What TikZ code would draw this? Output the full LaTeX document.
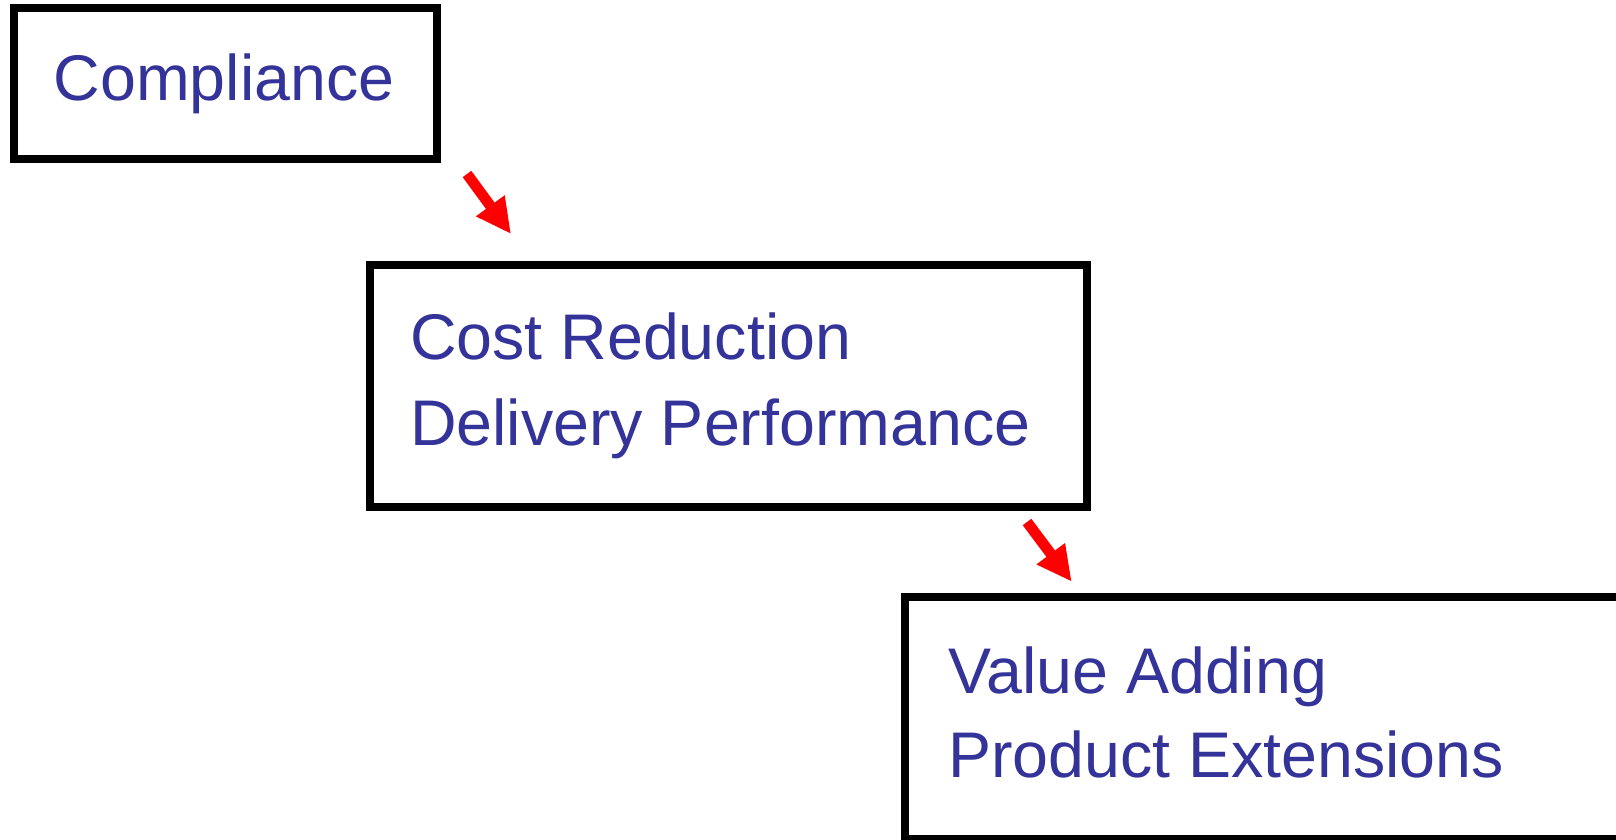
\documentclass[tikz,border=0pt]{standalone}
\usepackage{fontspec}
\setmainfont{Liberation Sans}
\usetikzlibrary{arrows.meta}
\definecolor{txtblue}{RGB}{51,51,153}
\begin{document}
\begin{tikzpicture}[x=1pt,y=-1pt,
  boxline/.style={draw=black,line width=8pt},
  lbl/.style={anchor=base west,inner sep=0pt,text=txtblue,font=\fontsize{64.5}{84}\selectfont,align=left},
  redarrow/.style={draw=red,line width=10.7pt,-{Triangle[length=35pt,width=33pt]}}]
\useasboundingbox (0,0) rectangle (1616,840);
\clip (0,0) rectangle (1616,840);
\fill[white] (0,0) rectangle (1616,840);
% boxes
\draw[boxline] (13.5,8) rectangle (436.5,159);
\draw[boxline] (370,264.7) rectangle (1086.7,506.7);
\draw[boxline] (905.3,597) rectangle (1650,839);
% labels
\node[lbl] (t1) at (53.5,100.5) {Compliance};
\node[lbl] (t2a) at (410,359.5) {Cost Reduction};
\node[lbl] (t2b) at (410,445.5) {Delivery Performance};
\node[lbl] (t3a) at (948,693) {Value Adding};
\node[lbl] (t3b) at (948,777) {Product Extensions};
% arrows
\coordinate (a1s) at (467,174);
\coordinate (a1e) at (511,234);
\coordinate (a2s) at (1027,522);
\coordinate (a2e) at (1071.7,581.7);
\draw[redarrow] (a1s) -- (a1e);
\draw[redarrow] (a2s) -- (a2e);
\end{tikzpicture}
\end{document}
